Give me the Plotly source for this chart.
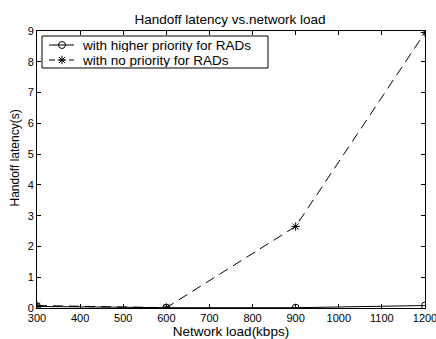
import plotly.graph_objects as go

load_kbps = [300, 600, 900, 1200]
latency_priority = [0.05, 0.01, 0.01, 0.08]
latency_no_priority = [0.08, 0.01, 2.65, 8.95]

x_ticks = [300, 400, 500, 600, 700, 800, 900, 1000, 1100, 1200]
y_ticks = list(range(0, 10))

series_names = ["with higher priority for RADs", "with no priority for RADs"]

font = dict(family="Liberation Sans, Arial, sans-serif", size=11, color="black")

# plot area in pixels (left, right, top, bottom)
L, R, T, B = 37, 425, 31, 308
W, H = 436, 339

DASH = "10px,6px"

fig = go.Figure()
fig.add_trace(go.Scatter(
    x=load_kbps, y=latency_priority, mode="lines+markers",
    name=series_names[0], showlegend=False,
    line=dict(color="black", width=1, dash="solid"),
    marker=dict(symbol="circle-open", size=7, color="black", line=dict(width=1)),
))
fig.add_trace(go.Scatter(
    x=load_kbps, y=latency_no_priority, mode="lines+markers",
    name=series_names[1], showlegend=False,
    line=dict(color="black", width=1, dash=DASH),
    marker=dict(symbol="asterisk-open", size=7, color="black", line=dict(width=1)),
))

# legend box drawn on a pixel-scaled overlay axis
legend_rows = [45, 60]
legend_symbols = ["circle-open", "asterisk-open"]
legend_dash = ["solid", "6px,4px"]
for row, sym, dash in zip(legend_rows, legend_symbols, legend_dash):
    fig.add_trace(go.Scatter(
        x=[49, 74], y=[row, row], mode="lines", xaxis="x2", yaxis="y2",
        showlegend=False, hoverinfo="skip",
        line=dict(color="black", width=1, dash=dash),
    ))
    fig.add_trace(go.Scatter(
        x=[62], y=[row], mode="markers", xaxis="x2", yaxis="y2",
        showlegend=False, hoverinfo="skip",
        marker=dict(symbol=sym, size=7, color="black", line=dict(width=1)),
    ))

fig.add_shape(type="rect", xref="x2", yref="y2", x0=42, x1=268, y0=36, y1=68,
              line=dict(color="black", width=1), fillcolor="white", layer="below")

for row, name in zip(legend_rows, series_names):
    fig.add_annotation(x=80, y=row, xref="x2", yref="y2", text=name,
                       showarrow=False, xanchor="left", yanchor="middle",
                       font=dict(size=13.5, color="black"), height=14, valign="middle")

# y-axis title, placed in paper coordinates left of the tick labels
fig.add_annotation(x=(14.5 - L) / (R - L), y=(B - 158) / (B - T),
                   xref="paper", yref="paper", text="Handoff latency(s)",
                   showarrow=False, textangle=-90, xanchor="center", yanchor="middle",
                   font=dict(size=12, color="black"))

axis_common = dict(
    showgrid=False, zeroline=False, showline=True, linecolor="black", linewidth=1,
    mirror="ticks", ticks="inside", ticklen=4, tickcolor="black",
    tickfont=font, automargin=False,
)

fig.update_layout(
    width=W, height=H,
    margin=dict(l=L, r=W - R, t=T, b=H - B, autoexpand=False),
    paper_bgcolor="white", plot_bgcolor="white",
    font=font,
    title=dict(text="Handoff latency vs.network load", x=230 / W, xanchor="center",
               y=1 - 19.5 / H, yanchor="middle", font=dict(size=13.5, color="black")),
    xaxis=dict(range=[300, 1200], tickvals=x_ticks, ticklabeloverflow="allow",
               title=dict(text="Network load(kbps)", standoff=5, font=dict(size=13.5)),
               **axis_common),
    yaxis=dict(range=[0, 9], tickvals=y_ticks, **axis_common),
    xaxis2=dict(range=[L, R], overlaying="x", visible=False, fixedrange=True),
    yaxis2=dict(range=[B, T], overlaying="y", visible=False, fixedrange=True),
    showlegend=False,
)

fig.write_html("out.html")
